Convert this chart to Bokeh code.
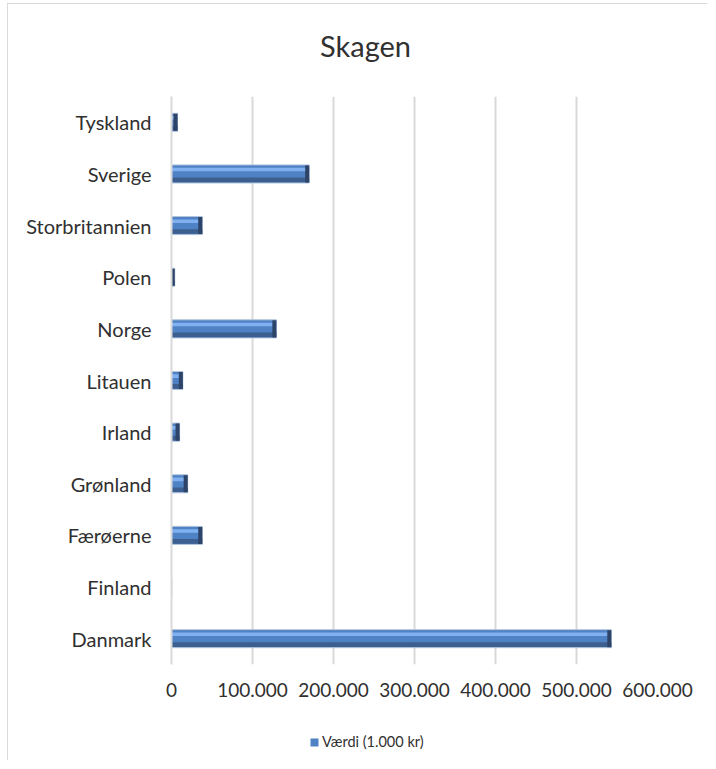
from bokeh.plotting import figure
from bokeh.layouts import column
from bokeh.models import (Range1d, FixedTicker, Legend, LegendItem, ColumnDataSource, Label,
                          FactorRange)
from bokeh.transform import dodge
from bokeh.embed import file_html
from bokeh.resources import INLINE

# ---- data (bottom -> top, as drawn) ----
countries = ["Danmark", "Finland", "Færøerne", "Grønland", "Irland", "Litauen",
             "Norge", "Polen", "Storbritannien", "Sverige", "Tyskland"]
values = [543000, 400, 38000, 20000, 10000, 14000, 129500, 4000, 38000, 170000, 7500]
x_ticks = [0, 100000, 200000, 300000, 400000, 500000, 600000]
x_tick_labels = ["0", "100.000", "200.000", "300.000", "400.000", "500.000", "600.000"]
title_text = "Skagen"
series_name = "Værdi (1.000 kr)"

FONT = "Lato"
TXT = "#303030"
GRID = "#d9d9d9"
BAR_FILL = "#4f82c4"

cap = 5000  # width of the dark end bevel, in data units
src = ColumnDataSource(dict(
    cat=countries,
    val=values,
    zero=[0] * len(values),
    capleft=[max(v - cap, 0) for v in values],
))

W = 699
LEFT, RIGHT = 163, 50

# ---- title strip (pixel-space ranges: x = page px, y = page px from top) ----
pt = figure(width=W, height=92, x_range=Range1d(171, 657), y_range=Range1d(96, 4),
            output_backend="svg", toolbar_location=None,
            min_border_left=LEFT, min_border_right=RIGHT, min_border_top=0,
            min_border_bottom=0, x_axis_type=None, y_axis_type=None)
pt.outline_line_color = None
pt.grid.visible = False
pt.background_fill_color = None
pt.border_fill_color = None
pt.add_layout(Label(x=365, y=45, text=title_text, text_font=FONT, text_font_size="29px",
                    text_color=TXT, text_align="center", text_baseline="middle"))

# ---- main chart ----
p = figure(width=W, height=610, y_range=countries, x_range=Range1d(0, 600000),
           title=None, output_backend="svg", toolbar_location=None,
           min_border_left=LEFT, min_border_right=RIGHT,
           min_border_top=0, min_border_bottom=42)
p.outline_line_color = None
p.background_fill_color = "white"
p.border_fill_color = "white"

# bars (bevelled look)
H = 0.35
p.hbar(y="cat", left="zero", right="val", height=H, source=src,
       fill_color=BAR_FILL, line_color="#b3c4dc", line_width=1)
p.hbar(y=dodge("cat", 0.085, range=p.y_range), left="zero", right="val", height=0.07,
       source=src, fill_color="#80b0f0", line_color=None)
p.hbar(y=dodge("cat", -0.115, range=p.y_range), left="zero", right="val", height=0.09,
       source=src, fill_color="#3d5f90", line_color=None)
p.hbar(y="cat", left="capleft", right="val", height=H - 0.02, source=src,
       fill_color="#2d4468", line_color=None)

# grid
p.ygrid.grid_line_color = None
p.xgrid.grid_line_color = GRID
p.xgrid.grid_line_width = 2
p.xgrid.ticker = FixedTicker(ticks=x_ticks)

# x axis
xa = p.xaxis[0]
xa.ticker = FixedTicker(ticks=x_ticks)
xa.major_label_overrides = {t: l for t, l in zip(x_ticks, x_tick_labels)}
xa.axis_line_color = None
xa.major_tick_line_color = None
xa.minor_tick_line_color = None
xa.major_tick_out = 0
xa.major_label_standoff = 18
xa.major_label_text_font = FONT
xa.major_label_text_font_size = "19px"
xa.major_label_text_color = TXT

# y axis
ya = p.yaxis[0]
ya.axis_line_color = GRID
ya.axis_line_width = 2
ya.major_tick_line_color = None
ya.minor_tick_line_color = None
ya.major_tick_out = 0
ya.major_label_standoff = 20
ya.major_label_text_font = FONT
ya.major_label_text_font_size = "20px"
ya.major_label_text_color = TXT

# ---- legend strip below the chart ----
# a zero-width key bar (draws nothing) that only carries the series styling for the legend
leg_src = ColumnDataSource(dict(cat=["key"], left=[0], right=[0]))
pl = figure(width=W, height=54, y_range=FactorRange(factors=["key"]),
            x_range=Range1d(0, 600000),
            output_backend="svg", toolbar_location=None,
            min_border_left=LEFT, min_border_right=RIGHT, min_border_top=0,
            min_border_bottom=0, x_axis_type=None, y_axis_type=None)
pl.outline_line_color = None
pl.grid.visible = False
pl.background_fill_color = None
pl.border_fill_color = None
r_leg = pl.hbar(y="cat", left="left", right="right", height=H, source=leg_src,
                fill_color=BAR_FILL, line_color=None)
legend = Legend(items=[LegendItem(label=series_name, renderers=[r_leg])],
                location=(138, 10), orientation="horizontal",
                border_line_color=None, background_fill_alpha=0,
                padding=0, margin=0, glyph_width=10, glyph_height=10,
                label_standoff=3, label_text_font=FONT,
                label_text_font_size="14.5px", label_text_color=TXT)
pl.add_layout(legend)

layout = column(pt, p, pl, spacing=0)
layout.styles = {"border-left": "1px solid #d9d9d9", "border-top": "1px solid #d9d9d9",
                 "margin-left": "7px", "margin-top": "3px"}

open("out.html", "w").write(file_html(layout, INLINE))
